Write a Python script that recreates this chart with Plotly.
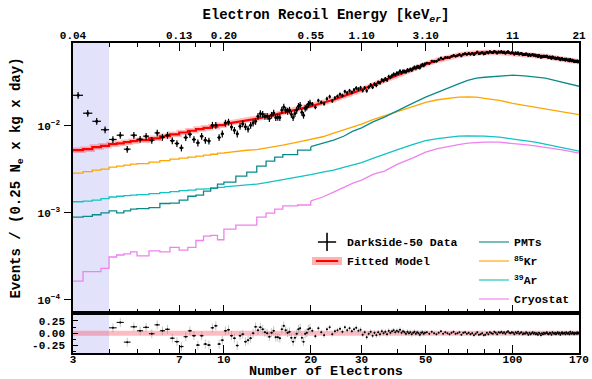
import numpy as np
import plotly.graph_objects as go

# ---------------- values ----------------
SHADED_NE = [3, 4]
NE_RANGE = [3, 170]
BOTTOM_TICKS = [3, 7, 10, 20, 30, 50, 100, 170]
BOTTOM_LABELS = ["3", "7", "10", "20", "30", "50", "100", "170"]
TOP_LABELS = ["0.04", "0.13", "0.20", "0.55", "1.10", "3.10", "11", "21"]
MINOR_TICKS = [4, 5, 6, 8, 9, 40, 60, 70, 80, 90]
Y_TICKS = [1e-4, 1e-3, 1e-2]
Y_TICK_LABELS = ["10<sup>−4</sup>", "10<sup>−3</sup>", "10<sup>−2</sup>"]
Y_RANGE_LOG = [-4.153, -1.046]
RES_TICKS = [-0.25, 0.0, 0.25]
RES_LABELS = ["-0.25", "0.00", "0.25"]
RES_MINOR = [-0.375, -0.125, 0.125, 0.375]
RES_RANGE = [-0.40, 0.41]

# model grid (number of electrons)
MODEL_NE = [3, 3.25, 3.5, 3.75, 4, 4.25, 4.5, 4.75, 5, 5.5, 6, 6.5, 7, 7.5, 8, 8.5, 9, 9.5, 10,
            11, 12, 13, 14, 15, 16, 18, 20, 22, 24, 26, 28, 30, 33, 36, 40, 45, 50, 55, 60,
            65, 70, 75, 80, 90, 100, 110, 120, 130, 140, 150, 160, 170]
FIT = [5.26e-3, 5.4e-3, 5.7e-3, 5.9e-3, 6.17e-3, 6.3e-3, 6.5e-3, 6.67e-3, 6.85e-3, 7.2e-3,
       7.6e-3, 8.0e-3, 8.4e-3, 8.8e-3, 9.2e-3, 9.5e-3, 9.8e-3, 1.02e-2, 1.05e-2, 1.10e-2,
       1.16e-2, 1.21e-2, 1.28e-2, 1.35e-2, 1.42e-2, 1.55e-2, 1.68e-2, 1.85e-2, 2.0e-2, 2.2e-2,
       2.38e-2, 2.6e-2, 2.97e-2, 3.35e-2, 3.9e-2, 4.5e-2, 5.12e-2, 5.7e-2, 6.16e-2, 6.5e-2,
       6.75e-2, 6.95e-2, 7.0e-2, 7.0e-2, 6.85e-2, 6.67e-2, 6.5e-2, 6.3e-2, 6.05e-2, 5.85e-2,
       5.65e-2, 5.45e-2]
PMT = [8.93e-4, 9.1e-4, 9.5e-4, 1.0e-3, 1.05e-3, 1.0e-3, 1.05e-3, 1.10e-3, 1.12e-3, 1.15e-3,
       1.28e-3, 1.29e-3, 1.40e-3, 1.55e-3, 1.60e-3, 1.78e-3, 1.92e-3, 2.14e-3, 2.25e-3, 2.64e-3,
       2.94e-3, 3.44e-3, 3.93e-3, 4.37e-3, 4.67e-3, 5.26e-3, 5.77e-3, 6.32e-3, 6.85e-3, 7.6e-3,
       8.7e-3, 9.5e-3, 1.12e-2, 1.26e-2, 1.51e-2, 1.82e-2, 2.14e-2, 2.44e-2, 2.78e-2, 3.05e-2,
       3.35e-2, 3.54e-2, 3.63e-2, 3.77e-2, 3.83e-2, 3.77e-2, 3.67e-2, 3.54e-2, 3.35e-2, 3.18e-2,
       3.01e-2, 2.86e-2]
KR85 = [2.86e-3, 2.98e-3, 3.10e-3, 3.18e-3, 3.35e-3, 3.44e-3, 3.54e-3, 3.63e-3, 3.68e-3, 3.83e-3,
        3.98e-3, 4.14e-3, 4.25e-3, 4.37e-3, 4.48e-3, 4.60e-3, 4.72e-3, 4.85e-3, 4.90e-3, 5.10e-3,
        5.25e-3, 5.33e-3, 5.54e-3, 5.77e-3, 6.00e-3, 6.50e-3, 6.94e-3, 7.50e-3, 8.25e-3, 9.0e-3,
        9.8e-3, 1.05e-2, 1.19e-2, 1.31e-2, 1.47e-2, 1.68e-2, 1.87e-2, 2.0e-2, 2.08e-2, 2.14e-2,
        2.15e-2, 2.14e-2, 2.08e-2, 1.97e-2, 1.82e-2, 1.73e-2, 1.64e-2, 1.58e-2, 1.50e-2, 1.44e-2,
        1.40e-2, 1.35e-2]
AR39 = [1.34e-3, 1.36e-3, 1.40e-3, 1.46e-3, 1.52e-3, 1.55e-3, 1.58e-3, 1.60e-3, 1.62e-3, 1.66e-3,
        1.71e-3, 1.75e-3, 1.80e-3, 1.82e-3, 1.87e-3, 1.89e-3, 1.92e-3, 1.96e-3, 1.99e-3, 2.03e-3,
        2.08e-3, 2.14e-3, 2.22e-3, 2.31e-3, 2.41e-3, 2.58e-3, 2.75e-3, 2.94e-3, 3.10e-3, 3.33e-3,
        3.54e-3, 3.78e-3, 4.25e-3, 4.73e-3, 5.33e-3, 6.08e-3, 6.76e-3, 7.13e-3, 7.41e-3, 7.61e-3,
        7.67e-3, 7.67e-3, 7.61e-3, 7.41e-3, 7.13e-3, 6.76e-3, 6.50e-3, 6.16e-3, 5.84e-3, 5.62e-3,
        5.33e-3, 5.12e-3]
CRYO = [1.64e-4, 2.1e-4, 2.1e-4, 2.3e-4, 3.10e-4, 3.27e-4, 3.36e-4, 3.55e-4, 3.20e-4, 3.64e-4,
        3.55e-4, 4.0e-4, 3.73e-4, 4.0e-4, 4.8e-4, 5.4e-4, 5.5e-4, 4.9e-4, 6.5e-4, 7.2e-4,
        7.2e-4, 8.9e-4, 9.9e-4, 1.10e-3, 1.20e-3, 1.23e-3, 1.37e-3, 1.52e-3, 1.73e-3, 1.97e-3,
        2.20e-3, 2.38e-3, 2.79e-3, 3.02e-3, 3.63e-3, 4.25e-3, 5.0e-3, 5.47e-3, 5.84e-3, 6.08e-3,
        6.32e-3, 6.40e-3, 6.50e-3, 6.50e-3, 6.32e-3, 6.08e-3, 5.90e-3, 5.70e-3, 5.47e-3, 5.26e-3,
        5.05e-3, 4.86e-3]

# measured spectrum, bins of 0.25 Ne (coarser sampling where the points overlap)
BIN_HALF_WIDTH = 0.125
NE_LOW = np.arange(3.125, 20.0, 0.25)      # 68 bins
NE_MID = np.arange(20.25, 50.0, 0.5)       # 60 bins
NE_HIGH = np.arange(50.5, 170.0, 1.0)      # 120 bins
DATA_LOW = [2.25e-2, 1.40e-2, 1.13e-2, 9.04e-3, 6.98e-3, 7.82e-3, 5.40e-3, 7.82e-3, 7.03e-3, 7.62e-3,
            6.85e-3, 8.31e-3, 7.41e-3, 7.82e-3, 6.76e-3, 6.28e-3, 5.59e-3, 7.36e-3, 8.03e-3, 6.98e-3,
            6.38e-3, 7.62e-3, 6.85e-3, 6.72e-3, 1.02e-2, 1.02e-2, 7.36e-3, 8.10e-3, 1.08e-2, 1.11e-2,
            9.74e-3, 8.90e-3, 8.10e-3, 9.90e-3, 1.06e-2, 9.80e-3, 9.20e-3, 1.02e-2, 1.08e-2, 1.13e-2,
            1.29e-2, 1.39e-2, 1.36e-2, 1.29e-2, 1.29e-2, 1.22e-2, 1.33e-2, 1.41e-2, 1.25e-2, 1.26e-2,
            1.25e-2, 1.52e-2, 1.65e-2, 1.52e-2, 1.48e-2, 1.52e-2, 1.36e-2, 1.25e-2, 1.39e-2, 1.52e-2,
            1.68e-2, 1.73e-2, 1.44e-2, 1.33e-2, 1.60e-2, 1.65e-2, 1.78e-2, 1.84e-2]
DATA_MID = [1.79e-2, 1.64e-2, 1.96e-2, 1.87e-2, 1.80e-2, 2.06e-2, 2.17e-2, 1.94e-2, 2.10e-2, 2.19e-2,
            2.31e-2, 2.24e-2, 2.49e-2, 2.40e-2, 2.54e-2, 2.44e-2, 2.60e-2, 2.73e-2, 2.65e-2, 2.75e-2,
            2.55e-2, 2.74e-2, 2.53e-2, 2.78e-2, 2.96e-2, 2.79e-2, 3.03e-2, 2.94e-2, 3.18e-2, 3.13e-2,
            3.38e-2, 3.32e-2, 3.48e-2, 3.38e-2, 3.69e-2, 3.62e-2, 3.80e-2, 3.94e-2, 3.87e-2, 4.05e-2,
            4.05e-2, 4.27e-2, 4.08e-2, 4.26e-2, 4.24e-2, 4.18e-2, 4.41e-2, 4.34e-2, 4.49e-2, 4.38e-2,
            4.58e-2, 4.73e-2, 4.60e-2, 4.80e-2, 4.77e-2, 4.69e-2, 4.95e-2, 5.06e-2, 4.97e-2, 5.14e-2]
DATA_HIGH = [5.28e-2, 5.24e-2, 5.57e-2, 5.52e-2, 5.53e-2, 5.80e-2, 6.06e-2, 5.87e-2, 6.14e-2, 6.11e-2,
             6.07e-2, 6.32e-2, 6.52e-2, 6.33e-2, 6.46e-2, 6.65e-2, 6.37e-2, 6.69e-2, 6.80e-2, 6.65e-2,
             6.84e-2, 6.67e-2, 6.85e-2, 6.61e-2, 6.86e-2, 7.10e-2, 6.76e-2, 6.84e-2, 6.99e-2, 6.72e-2,
             6.79e-2, 7.08e-2, 6.88e-2, 7.16e-2, 7.03e-2, 6.96e-2, 7.23e-2, 7.09e-2, 6.87e-2, 7.14e-2,
             7.06e-2, 7.19e-2, 6.96e-2, 7.09e-2, 6.86e-2, 7.06e-2, 7.18e-2, 6.96e-2, 6.87e-2, 7.00e-2,
             6.91e-2, 6.68e-2, 6.94e-2, 6.78e-2, 6.96e-2, 6.68e-2, 6.80e-2, 6.84e-2, 6.56e-2, 6.68e-2,
             6.59e-2, 6.77e-2, 6.62e-2, 6.41e-2, 6.66e-2, 6.44e-2, 6.56e-2, 6.67e-2, 6.45e-2, 6.58e-2,
             6.36e-2, 6.47e-2, 6.26e-2, 6.49e-2, 6.35e-2, 6.13e-2, 6.37e-2, 6.22e-2, 6.39e-2, 6.25e-2,
             6.29e-2, 6.39e-2, 6.18e-2, 6.09e-2, 6.25e-2, 6.16e-2, 5.96e-2, 6.23e-2, 6.09e-2, 6.00e-2,
             6.10e-2, 5.90e-2, 6.00e-2, 6.10e-2, 5.90e-2, 6.00e-2, 5.74e-2, 5.90e-2, 6.00e-2, 5.80e-2,
             5.84e-2, 5.88e-2, 5.68e-2, 5.90e-2, 5.76e-2, 5.68e-2, 5.78e-2, 5.59e-2, 5.85e-2, 5.66e-2,
             5.58e-2, 5.73e-2, 5.60e-2, 5.47e-2, 5.62e-2, 5.54e-2, 5.46e-2, 5.61e-2, 5.43e-2, 5.51e-2]
RESID_LOW = [3.2, 1.55, 0.90, 0.52, 0.11, 0.22, -0.18, 0.13, 0.05, 0.12,
             -0.01, 0.17, 0.05, 0.08, -0.10, -0.17, -0.27, -0.07, 0.05, -0.05,
             -0.24, -0.05, -0.22, -0.24, 0.11, 0.15, -0.22, -0.14, 0.05, 0.07,
             -0.05, -0.10, -0.25, -0.05, -0.02, -0.17, -0.14, -0.10, 0.0, 0.13,
             0.06, 0.12, 0.08, 0.02, 0.0, -0.07, 0.01, 0.05, -0.08, -0.08,
             -0.10, 0.08, 0.15, 0.06, 0.01, 0.03, -0.09, -0.17, -0.09, -0.01,
             0.08, 0.10, -0.09, -0.17, -0.01, 0.01, 0.08, 0.10]
RESID_MID = [0.05, -0.06, 0.10, 0.02, -0.04, 0.08, 0.12, -0.02, 0.04, 0.06,
             0.09, 0.03, 0.12, 0.06, 0.10, 0.04, 0.08, 0.11, 0.05, 0.07,
             -0.03, 0.02, -0.08, -0.01, 0.03, -0.05, 0.01, -0.04, 0.02, -0.02,
             0.04, 0.00, 0.03, -0.02, 0.05, 0.01, 0.04, 0.06, 0.02, 0.05,
             0.03, 0.07, 0.01, 0.04, 0.02, -0.01, 0.03, 0.00, 0.02, -0.02,
             0.01, 0.03, -0.01, 0.02, 0.00, -0.03, 0.01, 0.02, -0.01, 0.01]
RESID_HIGH = [0.02, -0.01, 0.03, 0.00, -0.02, 0.01, 0.04, -0.01, 0.02, 0.00,
              -0.02, 0.01, 0.03, -0.01, 0.00, 0.02, -0.03, 0.01, 0.02, -0.01,
              0.01, -0.02, 0.00, -0.04, -0.01, 0.02, -0.03, -0.02, 0.00, -0.04,
              -0.03, 0.01, -0.02, 0.02, 0.00, -0.01, 0.03, 0.01, -0.02, 0.02,
              0.01, 0.03, 0.00, 0.02, -0.01, 0.02, 0.04, 0.01, 0.00, 0.02,
              0.01, -0.02, 0.02, 0.00, 0.03, -0.01, 0.01, 0.02, -0.02, 0.00,
              -0.01, 0.02, 0.00, -0.03, 0.01, -0.02, 0.00, 0.02, -0.01, 0.01,
              -0.02, 0.00, -0.03, 0.01, -0.01, -0.04, 0.00, -0.02, 0.01, -0.01,
              0.00, 0.02, -0.01, -0.02, 0.01, 0.00, -0.03, 0.02, 0.00, -0.01,
              0.01, -0.02, 0.00, 0.02, -0.01, 0.01, -0.03, 0.00, 0.02, -0.01,
              0.00, 0.01, -0.02, 0.02, 0.00, -0.01, 0.01, -0.02, 0.03, 0.00,
              -0.01, 0.02, 0.00, -0.02, 0.01, 0.00, -0.01, 0.02, -0.01, 0.01]
REL_ERR = {"low": 0.09, "mid": 0.05, "high": 0.03}
RES_BAND_NE = [3, 170]
RES_BAND_Y = [0.0, 0.0]

# ---------------- styling ----------------
FONT = "Liberation Mono"
C_FIT = "#ff0000"
C_BAND = "rgba(255,0,0,0.25)"
C_PMT = "#0b8a8a"
C_KR = "#ffa500"
C_AR = "#13c2c2"
C_CRYO = "#ee82ee"
C_SHADE = "rgb(226,226,250)"

fig = go.Figure()


def add_curve(y, color, width, name, split, legend, showlegend, opacity=1.0):
    # stepped (histogram) part at low Ne, continuous part above
    fig.add_trace(go.Scatter(x=MODEL_NE[:split + 1], y=y[:split + 1], mode="lines",
                             line=dict(color=color, width=width, shape="hv"),
                             opacity=opacity, name=name, legend=legend,
                             showlegend=False, hoverinfo="skip", xaxis="x", yaxis="y"))
    fig.add_trace(go.Scatter(x=MODEL_NE[split:], y=y[split:], mode="lines",
                             line=dict(color=color, width=width),
                             opacity=opacity, name=name, legend=legend,
                             showlegend=showlegend, hoverinfo="skip", xaxis="x", yaxis="y"))


add_curve(CRYO, C_CRYO, 1.3, "Cryostat", 26, "legend2", False)
add_curve(AR39, C_AR, 1.3, "<sup>39</sup>Ar", 18, "legend2", False)
add_curve(KR85, C_KR, 1.3, "<sup>85</sup>Kr", 18, "legend2", False)
add_curve(PMT, C_PMT, 1.3, "PMTs", 26, "legend2", False)
add_curve(FIT, C_BAND, 5.5, "band", 18, "legend", False)
add_curve(FIT, C_FIT, 2.2, "Fitted Model", 18, "legend", False)

# measured points
for ne, vals, key, msize in [(NE_LOW, DATA_LOW, "low", 3), (NE_MID, DATA_MID, "mid", 2.5),
                             (NE_HIGH, DATA_HIGH, "high", 2.5)]:
    v = np.array(vals)
    fig.add_trace(go.Scatter(
        x=ne, y=v, mode="markers", marker=dict(color="black", size=msize),
        error_y=dict(type="data", array=v * REL_ERR[key], color="black", thickness=1.2, width=0),
        error_x=dict(type="constant", value=BIN_HALF_WIDTH, color="black", thickness=1.2, width=0),
        showlegend=False, hoverinfo="skip", xaxis="x", yaxis="y"))

# residual panel
fig.add_trace(go.Scatter(x=RES_BAND_NE, y=RES_BAND_Y, mode="lines",
                         line=dict(color="rgba(255,60,80,0.35)", width=5),
                         showlegend=False, hoverinfo="skip", xaxis="x2", yaxis="y2"))
for ne, vals, key in [(NE_LOW, RESID_LOW, "low"), (NE_MID, RESID_MID, "mid"),
                      (NE_HIGH, RESID_HIGH, "high")]:
    fig.add_trace(go.Scatter(
        x=ne, y=vals, mode="markers", marker=dict(color="black", size=2),
        error_y=dict(type="constant", value=REL_ERR[key], color="rgba(150,150,150,0.55)",
                     thickness=1, width=0),
        error_x=dict(type="constant", value=BIN_HALF_WIDTH, color="black", thickness=1, width=0),
        showlegend=False, hoverinfo="skip", xaxis="x2", yaxis="y2"))

# legend entries
fig.add_trace(go.Scatter(x=[None], y=[None], mode="markers", name="DarkSide-50 Data",
                         marker=dict(symbol="cross-thin", size=13, color="black",
                                     line=dict(color="black", width=1.6)),
                         legend="legend", xaxis="x3", yaxis="y"))
fig.add_trace(go.Scatter(x=[None], y=[None], mode="lines+markers", name="Fitted Model",
                         line=dict(color="rgba(255,0,0,0.3)", width=8),
                         marker=dict(symbol="line-ew", size=16, color=C_FIT,
                                     line=dict(color=C_FIT, width=2)),
                         legend="legend", xaxis="x3", yaxis="y"))
for name, col in [("PMTs", C_PMT), ("<sup>85</sup>Kr", C_KR), ("<sup>39</sup>Ar", C_AR),
                  ("Cryostat", C_CRYO)]:
    fig.add_trace(go.Scatter(x=[None], y=[None], mode="lines", name=name,
                             line=dict(color=col, width=1.6), opacity=0.75,
                             legend="legend2", xaxis="x3", yaxis="y"))

logx = [np.log10(NE_RANGE[0]), np.log10(NE_RANGE[1])]
minor_x = dict(tickvals=MINOR_TICKS, ticks="inside", ticklen=4, tickwidth=1.3, tickcolor="black")
common_x = dict(type="log", range=logx, tickvals=BOTTOM_TICKS, ticks="inside", ticklen=8,
                tickwidth=1.3, tickcolor="black", showgrid=False, zeroline=False,
                automargin=False, minor=minor_x)

fig.update_layout(
    width=592, height=379,
    margin=dict(l=73, r=13, t=43, b=26),
    paper_bgcolor="white", plot_bgcolor="white",
    font=dict(family=FONT, size=11, color="black", weight="bold"),
    xaxis=dict(**common_x, domain=[0, 1], anchor="y", showticklabels=False,
               showline=True, linecolor="black", linewidth=1.5, mirror=True),
    xaxis3=dict(**common_x, overlaying="x", anchor="y", side="top", ticktext=TOP_LABELS,
                showline=False, ticklabelstandoff=1,
                title=dict(text="Electron Recoil Energy [keV<sub><i>er</i></sub>]",
                           font=dict(size=14, family=FONT, weight="bold"), standoff=6)),
    xaxis2=dict(**common_x, domain=[0, 1], anchor="y2", ticktext=BOTTOM_LABELS,
                showline=True, linecolor="black", linewidth=1.5, mirror=True,
                ticklabelstandoff=-5),
    yaxis=dict(type="log", range=Y_RANGE_LOG, domain=[0.129, 1], anchor="x",
               tickvals=Y_TICKS, ticktext=Y_TICK_LABELS, ticks="outside", ticklen=7,
               tickwidth=1.3, tickcolor="black", showline=True, linecolor="black",
               linewidth=1.5, mirror=True, showgrid=False, zeroline=False, automargin=False,
               ticklabelstandoff=2,
               title=dict(text="Events / (0.25 N<sub>e</sub> x kg x day)",
                          font=dict(size=14, family=FONT, weight="bold"), standoff=14)),
    yaxis2=dict(range=RES_RANGE, domain=[0, 0.129], anchor="x2", tickvals=RES_TICKS,
                ticktext=RES_LABELS, ticks="inside", ticklen=5, tickwidth=1.3,
                tickcolor="black", showline=True, linecolor="black", linewidth=1.5,
                mirror=True, showgrid=False, zeroline=False, automargin=False,
                ticklabelstandoff=4,
                minor=dict(tickvals=RES_MINOR, ticks="inside", ticklen=3, tickcolor="black")),
    legend=dict(x=0.4625, y=0.405, xanchor="left", yanchor="top", bgcolor="rgba(0,0,0,0)",
                font=dict(size=11.5, family=FONT, weight="bold"), tracegroupgap=0),
    legend2=dict(x=0.7925, y=0.405, xanchor="left", yanchor="top", bgcolor="rgba(0,0,0,0)",
                 font=dict(size=11.5, family=FONT, weight="bold"), tracegroupgap=0),
    shapes=[dict(type="rect", xref="x", yref="paper", x0=SHADED_NE[0], x1=SHADED_NE[1],
                 y0=0, y1=1, fillcolor=C_SHADE, line=dict(width=0), layer="below")],
    annotations=[dict(text="Number of Electrons", xref="paper", yref="paper", x=0.5, y=-0.0596,
                      xanchor="center", yanchor="middle", showarrow=False,
                      font=dict(size=13.5, family=FONT, weight="bold", color="black"))],
)

fig.write_html("out.html", config={"displayModeBar": False},
               post_script="document.body.style.margin='0px';document.body.style.overflow='hidden';")
